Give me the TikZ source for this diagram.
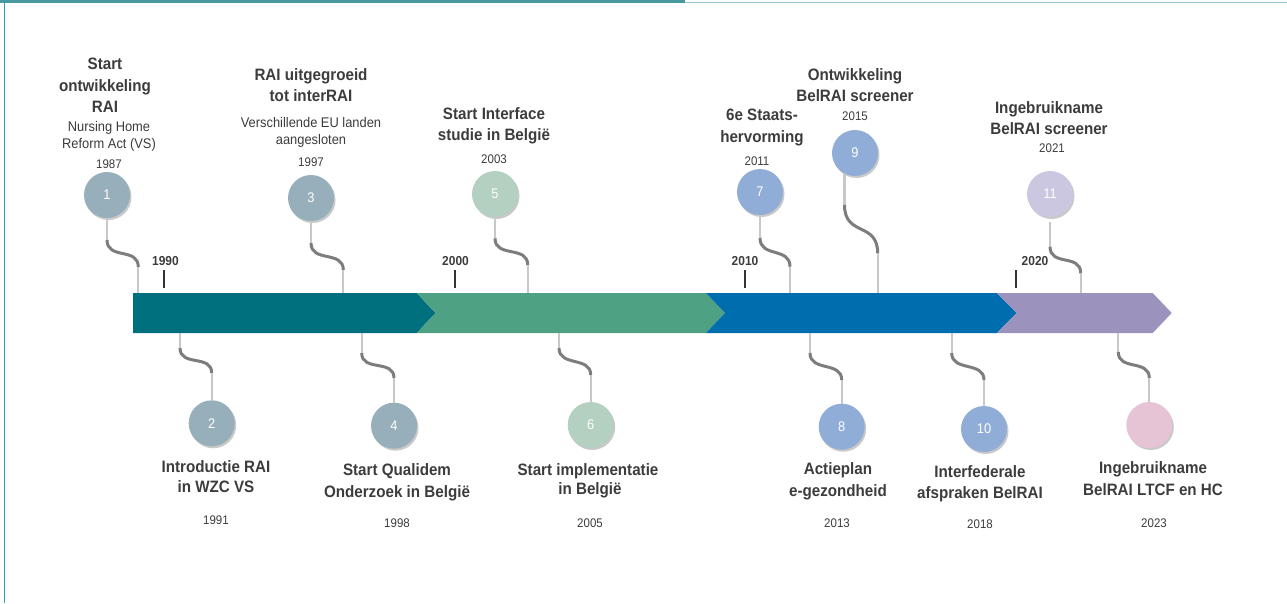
\documentclass[tikz,border=0pt]{standalone}
\usepackage{fontspec}
\setmainfont{Liberation Sans}[FakeStretch=0.92]
\usetikzlibrary{shadows,calc}

\definecolor{txt}{RGB}{60,60,60}
\definecolor{framedark}{RGB}{72,152,160}
\definecolor{framelight}{RGB}{150,196,200}
\definecolor{frameside}{RGB}{50,160,170}
\definecolor{barteal}{RGB}{0,112,127}
\definecolor{bargreen}{RGB}{78,161,131}
\definecolor{barblue}{RGB}{0,109,175}
\definecolor{barlilac}{RGB}{156,146,190}
\definecolor{dotgrey}{RGB}{151,175,186}
\definecolor{dotgreen}{RGB}{179,208,192}
\definecolor{dotblue}{RGB}{143,173,214}
\definecolor{dotlilac}{RGB}{203,199,225}
\definecolor{dotpink}{RGB}{230,196,213}
\definecolor{wirelight}{RGB}{200,200,200}
\definecolor{wiredark}{RGB}{125,125,125}
\definecolor{tickcol}{RGB}{51,51,51}

\begin{document}
\begin{tikzpicture}[x=1pt,y=-1pt,
  title/.style={font=\fontsize{16.5}{20}\selectfont\bfseries, text=txt, anchor=base, inner sep=0pt},
  sub/.style={font=\fontsize{14}{17}\selectfont, text=txt, anchor=base, inner sep=0pt},
  yr/.style={font=\fontsize{12.5}{15}\selectfont, text=txt, anchor=base, inner sep=0pt},
  axisyr/.style={font=\fontsize{13}{16}\selectfont\bfseries, text=txt, anchor=base, inner sep=0pt},
  dot/.style={circle, minimum size=46pt, inner sep=0pt, outer sep=0pt,
    font=\fontsize{14}{16}\selectfont, text=white,
    drop shadow={shadow xshift=1.5pt, shadow yshift=-2pt, opacity=0.3, fill=black!70}},
  thinwire/.style={draw=wirelight, line width=2.2pt},
  bendwire/.style={draw=wiredark, line width=3pt},
  tickmark/.style={draw=tickcol, line width=2pt},
]
\useasboundingbox (0,0) rectangle (1287,603);

% frame
\fill[framedark] (0,0) rectangle (685,3.3);
\draw[framelight, line width=1.3pt] (685,2.6) -- (1287,2.6);
\draw[frameside, line width=1.5pt] (4.3,0) -- (4.3,603);

% timeline arrow
\fill[barteal] (133,293) -- (416.7,293) -- (435.5,313) -- (416.7,333) -- (133,333) -- cycle;
\fill[bargreen] (416.7,293) -- (706,293) -- (725,313) -- (706,333) -- (416.7,333) -- (435.5,313) -- cycle;
\fill[barblue] (706,293) -- (997,293) -- (1016.7,313) -- (997,333) -- (706,333) -- (725,313) -- cycle;
\fill[barlilac] (997,293) -- (1152.7,293) -- (1171.7,313) -- (1152.7,333) -- (997,333) -- (1016.7,313) -- cycle;

% decade ticks
\draw[tickmark] (164.3,270) -- (164.3,288);
\draw[tickmark] (454.7,270) -- (454.7,288);
\draw[tickmark] (745,270) -- (745,288);
\draw[tickmark] (1015.7,270) -- (1015.7,288);
\node[axisyr] (y1990) at (165.5,265) {1990};
\node[axisyr] (y2000) at (455.5,265) {2000};
\node[axisyr] (y2010) at (745,265) {2010};
\node[axisyr] (y2020) at (1035,265) {2020};

% milestone dots
\node[dot, fill=dotgrey]  (n1)  at (107,195)     {1};
\node[dot, fill=dotgrey]  (n2)  at (211.7,423.3) {2};
\node[dot, fill=dotgrey]  (n3)  at (311,198)     {3};
\node[dot, fill=dotgrey]  (n4)  at (394,425.7)   {4};
\node[dot, fill=dotgreen] (n5)  at (495,194)     {5};
\node[dot, fill=dotgreen] (n6)  at (590.7,425)   {6};
\node[dot, fill=dotblue]  (n7)  at (760,192)     {7};
\node[dot, fill=dotblue]  (n8)  at (841.7,426.7) {8};
\node[dot, fill=dotblue]  (n9)  at (855,153)     {9};
\node[dot, fill=dotblue]  (n10) at (984,429)     {10};
\node[dot, fill=dotlilac] (n11) at (1050,194)    {11};
\node[dot, fill=dotpink]  (n12) at (1149.3,425)  {};

% wire joints: bend start, bend end, bar contact
\coordinate (a1) at (107,240);    \coordinate (b1) at (138.3,267);  \coordinate (e1) at (138.3,293);
\coordinate (a3) at (311,243);    \coordinate (b3) at (343.3,270);  \coordinate (e3) at (343.3,293);
\coordinate (a5) at (495,238.3);  \coordinate (b5) at (527.7,265);  \coordinate (e5) at (527.7,293);
\coordinate (a7) at (760,238);    \coordinate (b7) at (790,266.7);  \coordinate (e7) at (790,293);
\coordinate (s9) at (844.5,173.5);
\coordinate (a9) at (844.5,205);  \coordinate (b9) at (877.7,253.3);\coordinate (e9) at (877.7,293);
\coordinate (s11) at (1050,222);
\coordinate (a11) at (1050,246.7);\coordinate (b11) at (1080.7,273.3);\coordinate (e11) at (1080.7,293);

\coordinate (e2) at (180,333);    \coordinate (a2) at (180,348);    \coordinate (b2) at (211.7,373);
\coordinate (e4) at (361.7,333);  \coordinate (a4) at (361.7,353);  \coordinate (b4) at (394,378);
\coordinate (e6) at (559,333);    \coordinate (a6) at (559,348);    \coordinate (b6) at (590.7,375);
\coordinate (e8) at (810,333);    \coordinate (a8) at (810,353);    \coordinate (b8) at (841.7,380);
\coordinate (e10) at (951.7,333); \coordinate (a10) at (951.7,353); \coordinate (b10) at (984,380);
\coordinate (e12) at (1118.3,333);\coordinate (a12) at (1118.3,352);\coordinate (b12) at (1149.3,378);

% wires above the arrow
\foreach \i in {1,3,5,7} {
  \draw[thinwire] (n\i.south) -- (a\i);
  \draw[bendwire] (a\i) .. controls +(0,20) and +(0,-20) .. (b\i);
  \draw[thinwire] (b\i) -- (e\i);
}
\draw[thinwire] (s9) -- (a9);
\draw[bendwire] (a9) .. controls +(0,32) and +(0,-32) .. (b9);
\draw[thinwire] (b9) -- (e9);
\draw[thinwire] (s11) -- (a11);
\draw[bendwire] (a11) .. controls +(0,20) and +(0,-20) .. (b11);
\draw[thinwire] (b11) -- (e11);

% wires below the arrow
\foreach \i in {2,4,6,8,10,12} {
  \draw[thinwire] (e\i) -- (a\i);
  \draw[bendwire] (a\i) .. controls +(0,19) and +(0,-19) .. (b\i);
  \draw[thinwire] (b\i) -- (n\i.north);
}

% labels above
\node[title] (t1a) at (105,69)  {Start};
\node[title] (t1b) at (105,91)  {ontwikkeling};
\node[title] (t1c) at (105,112) {RAI};
\node[sub]   (s1a) at (109,131) {Nursing Home};
\node[sub]   (s1b) at (109,148) {Reform Act (VS)};
\node[yr]    (d1)  at (109,168) {1987};

\node[title] (t3a) at (311,80)    {RAI uitgegroeid};
\node[title] (t3b) at (311,101.7) {tot interRAI};
\node[sub]   (s3a) at (311,127)   {Verschillende EU landen};
\node[sub]   (s3b) at (311,144)   {aangesloten};
\node[yr]    (d3)  at (311,166.5) {1997};

\node[title] (t5a) at (494,119.3) {Start Interface};
\node[title] (t5b) at (494,140.7) {studie in België};
\node[yr]    (d5)  at (494,163.3) {2003};

\node[title] (t7a) at (762,120) {6e Staats-};
\node[title] (t7b) at (762,142) {hervorming};
\node[yr]    (d7)  at (757,165) {2011};

\node[title] (t9a) at (855,80)    {Ontwikkeling};
\node[title] (t9b) at (855,101.5) {BelRAI screener};
\node[yr]    (d9)  at (855,120.5) {2015};

\node[title] (t11a) at (1049,113)   {Ingebruikname};
\node[title] (t11b) at (1049,134)   {BelRAI screener};
\node[yr]    (d11)  at (1052,152.5) {2021};

% labels below
\node[title] (t2a) at (216,472.5) {Introductie RAI};
\node[title] (t2b) at (216,492)   {in WZC VS};
\node[yr]    (d2)  at (216,524)   {1991};

\node[title] (t4a) at (397,475) {Start Qualidem};
\node[title] (t4b) at (397,497) {Onderzoek in België};
\node[yr]    (d4)  at (397,527) {1998};

\node[title] (t6a) at (588,475) {Start implementatie};
\node[title] (t6b) at (590,494) {in België};
\node[yr]    (d6)  at (590,527) {2005};

\node[title] (t8a) at (838,474.5) {Actieplan};
\node[title] (t8b) at (838,496)   {e-gezondheid};
\node[yr]    (d8)  at (837,527)   {2013};

\node[title] (t10a) at (980,477.5) {Interfederale};
\node[title] (t10b) at (980,498)   {afspraken BelRAI};
\node[yr]    (d10)  at (980,528)   {2018};

\node[title] (t12a) at (1153,473) {Ingebruikname};
\node[title] (t12b) at (1153,495) {BelRAI LTCF en HC};
\node[yr]    (d12)  at (1154,527) {2023};
\end{tikzpicture}
\end{document}
